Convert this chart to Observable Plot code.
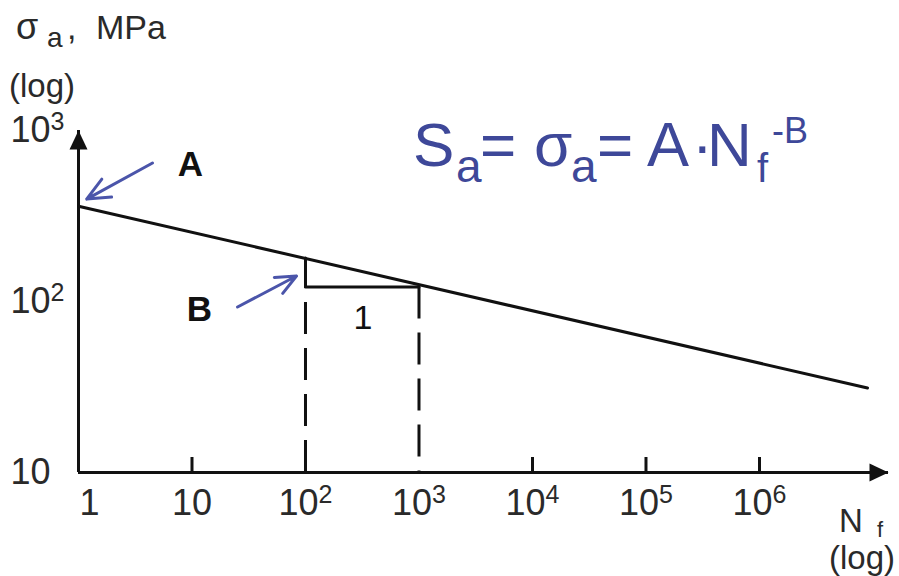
<!DOCTYPE html>
<html>
<head>
<meta charset="utf-8">
<script src="https://cdn.jsdelivr.net/npm/d3@7"></script>
<script src="https://cdn.jsdelivr.net/npm/@observablehq/plot@0.6"></script>
<style>
  html, body { margin: 0; padding: 0; background: #fff; }
  #chart { width: 899px; height: 576px; }
</style>
</head>
<body>
<div id="chart"></div>
<script>
// Basquin S–N line on log–log axes: S_a = σ_a = A·N_f^-B

// axis extents (cycles N_f, stress σ_a in MPa)
const nMin = 1;
const nMax = 1.37e7;
const sMin = 10;
const sMax = 1000;

// horizontal axis: tick marks and labels
const nTicks = [10, 1e4, 1e5, 1e6];
const nLabelValues = [10, 100, 1000, 1e4, 1e5, 1e6];
const nLabelText = ["10", "10²", "10³", "10⁴", "10⁵", "10⁶"];
const nFirstLabel = ["1"];

// vertical axis labels
const sLabelValues = [10, 100, 1000];
const sLabelText = ["10", "10²", "10³"];

// the S–N line (end points)
const lineN = [1, 8.95e6];
const lineS = [361, 31.2];

// slope triangle (one decade wide) and the dashed drops to the axis
const stepN = [100, 100, 1000];
const stepS = [179.5, 121.6, 121.6];
const dropN = [100, 1000];
const dropS = [121.6, 121.6];
const triangleLabel = ["1"];
const triangleLabelN = [320];
const triangleLabelS = [80];

// callouts A (intercept) and B (slope)
const calloutText = ["A", "B"];
const calloutN = [9.7, 11.6];
const calloutS = [628, 89];
const pointerFromN = [4.49, 25.2];
const pointerFromS = [646, 92.9];
const pointerToN = [1.18, 83.3];
const pointerToS = [397, 141];

const ink = "#111";
const labelInk = "#2a2a2a";
const blue = "#3e4899";
const font = "'Liberation Sans', Arial, Helvetica, sans-serif";

// filled arrow head with its tip at the anchor point, pointing up
const arrowHead = {
  draw(context) {
    context.moveTo(0, 0);
    context.lineTo(-9, 19);
    context.lineTo(9, 19);
    context.closePath();
  }
};

const curve = lineN.map((n, i) => ({n, s: lineS[i]}));
const step = stepN.map((n, i) => ({n, s: stepS[i]}));
const drops = dropN.map((n, i) => ({n, s: dropS[i]}));
const callouts = calloutText.map((t, i) => ({t, n: calloutN[i], s: calloutS[i]}));
const pointers = pointerFromN.map((n, i) => ({
  n1: n, s1: pointerFromS[i], n2: pointerToN[i], s2: pointerToS[i]
}));

const chart = Plot.plot({
  width: 899,
  height: 576,
  marginLeft: 78,
  marginRight: 11,
  marginTop: 130,
  marginBottom: 104,
  x: {type: "log", domain: [nMin, nMax], axis: null},
  y: {type: "log", domain: [sMin, sMax], axis: null},
  style: {fontFamily: font, background: "#fff", overflow: "visible"},
  marks: [
    // axes with arrow heads
    Plot.ruleX([nMin], {y1: sMin, y2: sMax, stroke: ink, strokeWidth: 3}),
    Plot.ruleY([sMin], {x1: nMin, x2: nMax, stroke: ink, strokeWidth: 3}),
    Plot.dot([{n: nMin, s: sMax}], {x: "n", y: "s", symbol: arrowHead, fill: ink, stroke: null}),
    Plot.dot([{n: nMax, s: sMin}], {x: "n", y: "s", symbol: arrowHead, rotate: 90, fill: ink, stroke: null}),

    // short ticks standing on the N axis
    Plot.ruleX(nTicks, {x: d => d, insetTop: 342 - 15, stroke: ink, strokeWidth: 3}),

    // tick labels
    Plot.text(nLabelValues, {
      x: d => d, text: (d, i) => nLabelText[i], frameAnchor: "bottom",
      dy: 31, lineAnchor: "middle", fontSize: 36, fill: labelInk
    }),
    Plot.text(nFirstLabel, {
      x: () => nMin, text: d => d, frameAnchor: "bottom",
      dx: 11, dy: 31, lineAnchor: "middle", fontSize: 36, fill: labelInk
    }),
    Plot.text(sLabelValues, {
      y: d => d, text: (d, i) => sLabelText[i], frameAnchor: "left",
      textAnchor: "start", dx: -68, lineAnchor: "middle", fontSize: 36, fill: labelInk
    }),

    // dashed drops from the slope triangle to the N axis
    Plot.ruleX(drops.slice(0, 1), {x: "n", y1: () => sMin, y2: "s", stroke: ink, strokeWidth: 3, strokeDasharray: "32,14"}),
    Plot.ruleX(drops.slice(1), {x: "n", y1: "s", y2: () => sMin, stroke: ink, strokeWidth: 3, strokeDasharray: "32,14"}),

    // slope triangle
    Plot.line(step, {x: "n", y: "s", stroke: ink, strokeWidth: 3}),
    Plot.text(triangleLabel, {
      x: (d, i) => triangleLabelN[i], y: (d, i) => triangleLabelS[i], text: d => d,
      fontSize: 34, fill: ink, lineAnchor: "middle"
    }),

    // the S–N line
    Plot.line(curve, {x: "n", y: "s", stroke: ink, strokeWidth: 3}),

    // callouts
    Plot.arrow(pointers, {
      x1: "n1", y1: "s1", x2: "n2", y2: "s2",
      stroke: "#4b55aa", strokeWidth: 3, headLength: 17, headAngle: 48
    }),
    Plot.text(callouts, {
      x: "n", y: "s", text: "t", fontSize: 35, fontWeight: "bold", fill: ink, lineAnchor: "middle"
    })
  ]
});

document.getElementById("chart").appendChild(chart);

const svg = d3.select(chart);

// set the power-of-ten labels with a real raised exponent
const supers = {"²": "2", "³": "3", "⁴": "4", "⁵": "5", "⁶": "6"};
svg.selectAll("text").each(function () {
  const t = this.textContent;
  const m = /^10([²³⁴⁵⁶])$/.exec(t);
  if (!m) return;
  const el = d3.select(this);
  el.text("10");
  el.append("tspan").attr("dy", "-12").attr("font-size", 25).text(supers[m[1]]);
});

// axis titles and the formula, set as rich text on the same SVG
const notes = svg.append("g").attr("font-family", font).attr("text-anchor", "start");

function piece(g, text, x, y, size, fill) {
  g.append("text").attr("x", x).attr("y", y).attr("font-size", size).attr("fill", fill).text(text);
}

// σ_a, MPa (log)
piece(notes, "σ", 16, 39, 36, labelInk);
piece(notes, "a", 47, 47, 28, labelInk);
piece(notes, ",", 67, 39, 34, labelInk);
piece(notes, "MPa", 96, 39, 34, labelInk);
piece(notes, "(log)", 9, 97, 33, labelInk);

// N_f (log)
piece(notes, "N", 839, 532, 33, labelInk);
piece(notes, "f", 877, 537, 22, labelInk);
piece(notes, "(log)", 829, 569, 33, labelInk);

// S_a = σ_a = A·N_f^-B
piece(notes, "S", 413, 166, 62, blue);
piece(notes, "a", 456, 182, 46, blue);
piece(notes, "=", 480, 166, 62, blue);
piece(notes, "σ", 534, 166, 62, blue);
piece(notes, "a", 571, 182, 46, blue);
piece(notes, "=", 597, 166, 62, blue);
piece(notes, "A", 647, 166, 63, blue);
piece(notes, "·", 692, 166, 62, blue);
piece(notes, "N", 707, 166, 62, blue);
piece(notes, "f", 757, 182, 40, blue);
piece(notes, "-B", 772, 143, 36, blue);
</script>
</body>
</html>
